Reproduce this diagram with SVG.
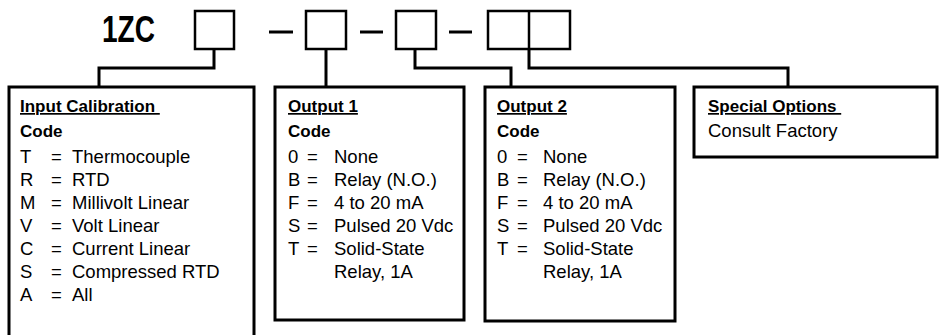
<svg xmlns="http://www.w3.org/2000/svg" width="939" height="335" viewBox="0 0 939 335">
<style>
  .box { fill: #fff; stroke: #000; stroke-width: 3; }
  .cell { fill: #fff; stroke: #000; stroke-width: 2.5; }
  .wire { fill: none; stroke: #000; stroke-width: 3; }
  .h { font-family: "Liberation Sans", Arial, sans-serif; font-size: 17px; font-weight: bold; fill: #000; }
  .u { text-decoration: underline; }
  .t { font-family: "Liberation Sans", Arial, sans-serif; font-size: 18.5px; fill: #000; }
  .title { font-family: "Liberation Sans", Arial, sans-serif; font-size: 36px; font-weight: bold; fill: #000; }
</style>
<rect width="939" height="335" fill="#fff"/>

<g id="part-number">
  <text class="title" x="102" y="42" textLength="53" lengthAdjust="spacingAndGlyphs">1ZC</text>
  <rect class="cell" x="195" y="11" width="39" height="38"/>
  <line class="wire" x1="269" y1="32" x2="293" y2="32"/>
  <rect class="cell" x="306" y="11" width="40" height="38"/>
  <line class="wire" x1="360" y1="32" x2="383" y2="32"/>
  <rect class="cell" x="396" y="11" width="40" height="38"/>
  <line class="wire" x1="449" y1="32" x2="472" y2="32"/>
  <rect class="cell" x="488" y="11" width="82" height="38"/>
  <line class="cell" x1="529" y1="11" x2="529" y2="49"/>
</g>

<g id="connectors">
  <path class="wire" d="M214,49 V68 H99 V87"/>
  <path class="wire" d="M326,49 V87"/>
  <path class="wire" d="M415,49 V68 H511 V87"/>
  <path class="wire" d="M529,49 V68 H788 V87"/>
</g>

<g id="input-calibration">
  <rect class="box" x="9" y="87" width="245" height="262"/>
  <text class="h u" x="20" y="112" xml:space="preserve">Input Calibration </text>
  <text class="h" x="20" y="137">Code</text>
  <g class="t">
    <text x="20" y="163">T</text><text x="51" y="163">=</text><text x="72" y="163">Thermocouple</text>
    <text x="20" y="186">R</text><text x="51" y="186">=</text><text x="72" y="186">RTD</text>
    <text x="20" y="209">M</text><text x="51" y="209">=</text><text x="72" y="209">Millivolt Linear</text>
    <text x="20" y="232">V</text><text x="51" y="232">=</text><text x="72" y="232">Volt Linear</text>
    <text x="20" y="255">C</text><text x="51" y="255">=</text><text x="72" y="255">Current Linear</text>
    <text x="20" y="278">S</text><text x="51" y="278">=</text><text x="72" y="278">Compressed RTD</text>
    <text x="20" y="301">A</text><text x="51" y="301">=</text><text x="72" y="301">All</text>
  </g>
</g>

<g id="output-1">
  <rect class="box" x="275" y="87" width="189" height="233"/>
  <text class="h u" x="288" y="112">Output 1</text>
  <text class="h" x="288" y="137">Code</text>
  <g class="t">
    <text x="288" y="163">0</text><text x="307" y="163">=</text><text x="334" y="163">None</text>
    <text x="288" y="186">B</text><text x="307" y="186">=</text><text x="334" y="186">Relay (N.O.)</text>
    <text x="288" y="209">F</text><text x="307" y="209">=</text><text x="334" y="209">4 to 20 mA</text>
    <text x="288" y="232">S</text><text x="307" y="232">=</text><text x="334" y="232">Pulsed 20 Vdc</text>
    <text x="288" y="255">T</text><text x="307" y="255">=</text><text x="334" y="255">Solid-State</text>
    <text x="334" y="278">Relay, 1A</text>
  </g>
</g>

<g id="output-2">
  <rect class="box" x="485" y="87" width="190" height="234"/>
  <text class="h u" x="497" y="112">Output 2</text>
  <text class="h" x="497" y="137">Code</text>
  <g class="t">
    <text x="497" y="163">0</text><text x="517" y="163">=</text><text x="543" y="163">None</text>
    <text x="497" y="186">B</text><text x="517" y="186">=</text><text x="543" y="186">Relay (N.O.)</text>
    <text x="497" y="209">F</text><text x="517" y="209">=</text><text x="543" y="209">4 to 20 mA</text>
    <text x="497" y="232">S</text><text x="517" y="232">=</text><text x="543" y="232">Pulsed 20 Vdc</text>
    <text x="497" y="255">T</text><text x="517" y="255">=</text><text x="543" y="255">Solid-State</text>
    <text x="543" y="278">Relay, 1A</text>
  </g>
</g>

<g id="special-options">
  <rect class="box" x="694" y="87" width="243" height="70"/>
  <text class="h u" x="708" y="112" xml:space="preserve">Special Options </text>
  <text class="t" x="708" y="137">Consult Factory</text>
</g>
</svg>
